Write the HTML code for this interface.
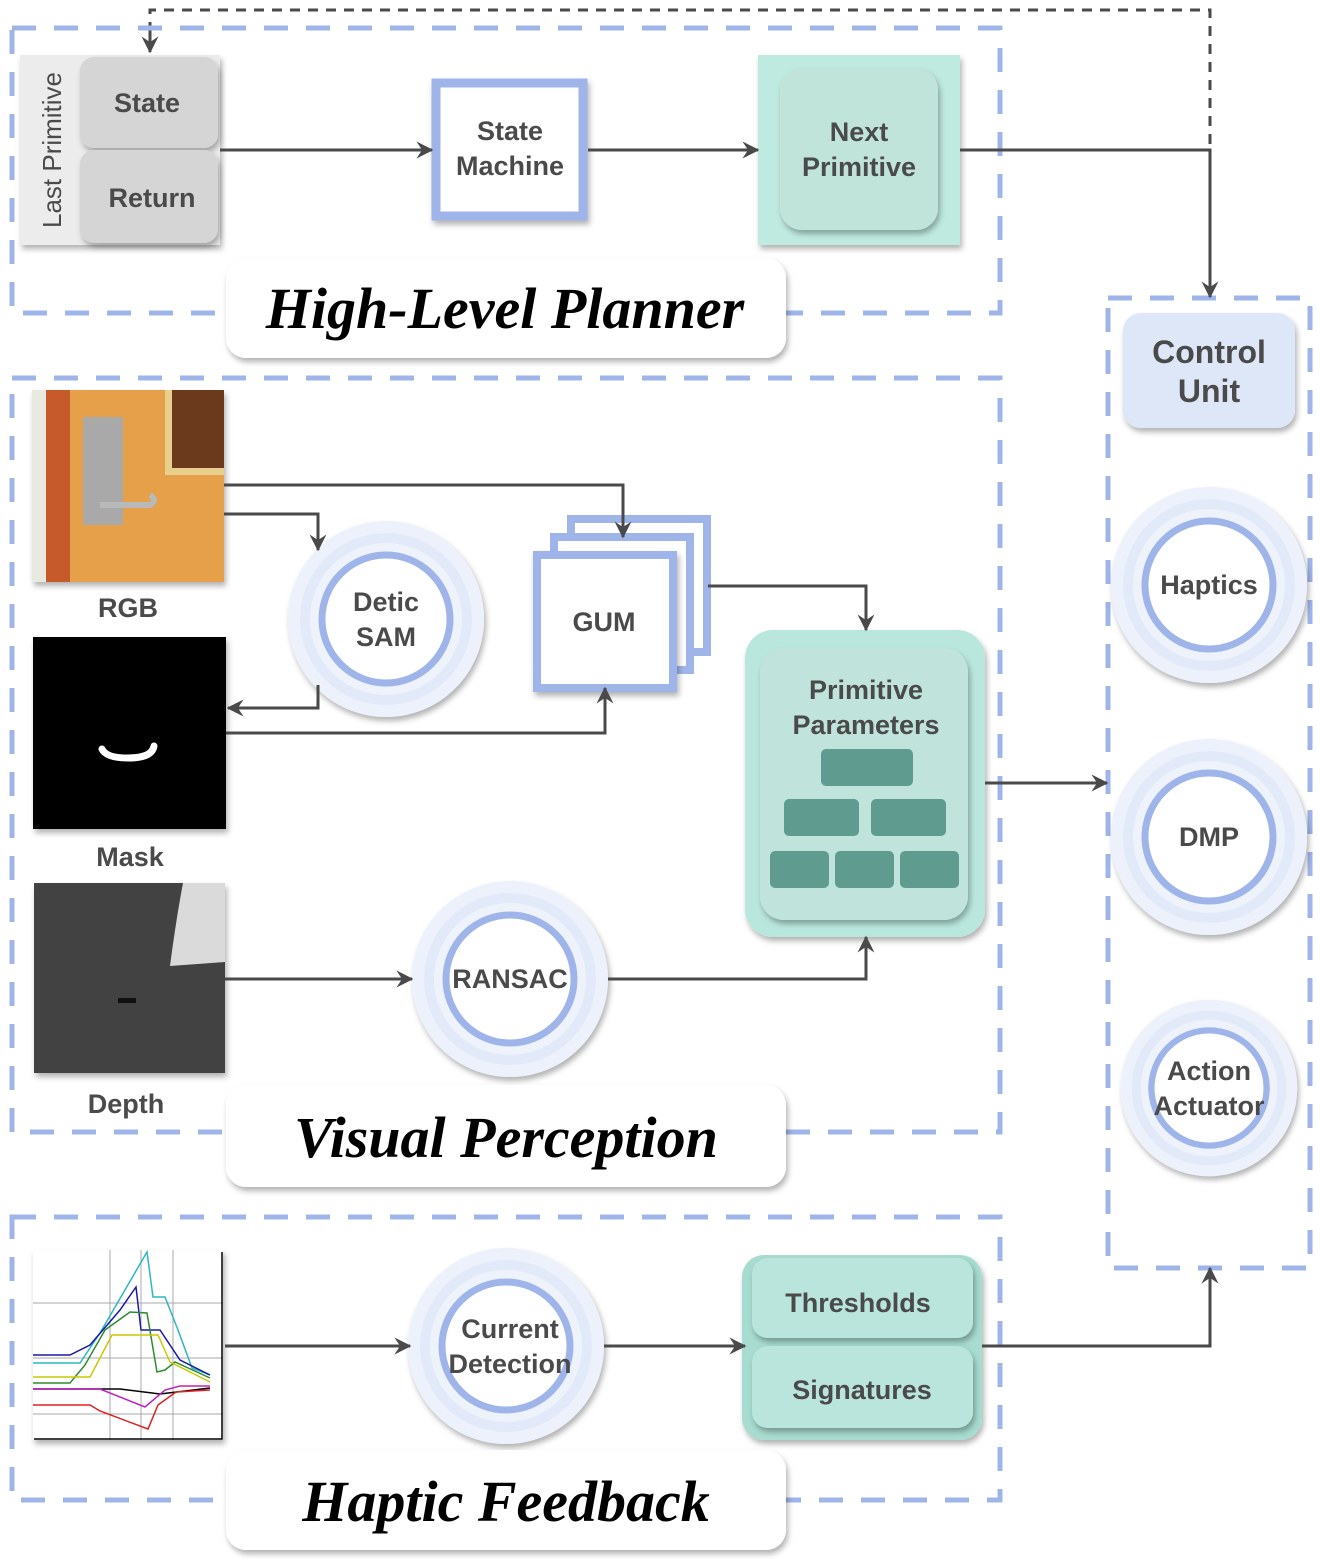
<!DOCTYPE html>
<html><head><meta charset="utf-8"><style>
html,body{margin:0;padding:0;background:#fff;width:1320px;height:1562px;overflow:hidden}
svg{display:block}
.t{font-family:"Liberation Sans",sans-serif;font-weight:bold;fill:#4a4a4a;text-anchor:middle}
.ti{font-family:"Liberation Serif",serif;font-weight:bold;font-style:italic;fill:#000;text-anchor:middle}
</style></head><body>
<svg width="1320" height="1562" viewBox="0 0 1320 1562" xmlns="http://www.w3.org/2000/svg">
<defs>
<filter id="sh" x="-20%" y="-20%" width="140%" height="140%"><feDropShadow dx="2" dy="4" stdDeviation="3" flood-color="#000" flood-opacity="0.3"/></filter>
<marker id="ar" viewBox="0 0 12 12" refX="11" refY="6" markerWidth="17" markerHeight="17" markerUnits="userSpaceOnUse" orient="auto"><path d="M0,0 L12,6 L0,12 L4,6 z" fill="#4a4a4a"/></marker>
<g id="circ">
<circle r="98" fill="#edf1fb" filter="url(#sh)"/>
<circle r="86" fill="#e2eaf9"/>
<circle r="76" fill="#eef2fb"/>
<circle r="64" fill="#fff" stroke="#9fb5ea" stroke-width="7"/>
</g>
</defs>
<g fill="none" stroke="#4a4a4a" stroke-width="3">
<path d="M150,50 V10 H1210 V150" stroke-dasharray="10,8"/>
</g>
<path d="M150,30 V52" stroke="#4a4a4a" stroke-width="3" marker-end="url(#ar)"/>

<g fill="none" stroke="#9fb5ea" stroke-width="5" stroke-dasharray="24,18">
<rect x="12" y="28" width="988" height="285"/>
<rect x="12" y="378" width="988" height="754"/>
<rect x="12" y="1217" width="988" height="283"/>
<rect x="1108" y="298" width="202" height="970"/>
</g>

<rect x="20" y="55" width="200" height="190" fill="#ececec" filter="url(#sh)"/>
<text class="t" transform="translate(52,150) rotate(-90)" style="font-weight:normal;font-size:26px" dy="9">Last Primitive</text>
<rect x="80" y="57" width="138" height="91" rx="14" fill="#d5d5d5" filter="url(#sh)"/>
<rect x="80" y="150" width="138" height="93" rx="14" fill="#d5d5d5" filter="url(#sh)"/>
<text class="t" x="147" y="112" font-size="27">State</text>
<text class="t" x="152" y="207" font-size="27">Return</text>
<rect x="436" y="83" width="147" height="133" fill="#fff" stroke="#9fb5ea" stroke-width="9" filter="url(#sh)"/>
<text class="t" x="510" y="140" font-size="27">State</text>
<text class="t" x="510" y="175" font-size="27">Machine</text>
<rect x="758" y="55" width="202" height="190" fill="#bfeae0" filter="url(#sh)"/>
<rect x="780" y="68" width="158" height="162" rx="22" fill="#c0e4da" filter="url(#sh)"/>
<text class="t" x="859" y="141" font-size="27">Next</text>
<text class="t" x="859" y="176" font-size="27">Primitive</text>
<g fill="none" stroke="#4a4a4a" stroke-width="3">
<path d="M220,150 H432" marker-end="url(#ar)"/>
<path d="M588,150 H758" marker-end="url(#ar)"/>
<path d="M960,150 H1210 V297" marker-end="url(#ar)"/>
</g>
<rect x="226" y="258" width="560" height="100" rx="20" fill="#fff" filter="url(#sh)"/>
<text class="ti" x="505" y="328" font-size="58">High-Level Planner</text>

<rect x="1123" y="313" width="172" height="115" rx="18" fill="#dde7f8" filter="url(#sh)"/>
<text class="t" x="1209" y="363" font-size="32">Control</text>
<text class="t" x="1209" y="402" font-size="32">Unit</text>
<use href="#circ" x="1209" y="585"/>
<text class="t" x="1209" y="594" font-size="27">Haptics</text>
<use href="#circ" x="1209" y="837"/>
<text class="t" x="1209" y="846" font-size="27">DMP</text>
<g transform="translate(1209,1088) scale(0.9)"><use href="#circ"/></g>
<text class="t" x="1209" y="1080" font-size="27">Action</text>
<text class="t" x="1209" y="1115" font-size="27">Actuator</text>

<g filter="url(#sh)">
<rect x="32" y="390" width="192" height="192" fill="#e6a24a"/>
</g>
<rect x="32" y="390" width="14" height="192" fill="#e8eadf"/>
<rect x="46" y="390" width="24" height="192" fill="#c75a2a"/>
<rect x="70" y="390" width="154" height="192" fill="#e6a04a"/>
<rect x="165" y="390" width="59" height="85" fill="#e9cf8e"/>
<rect x="172" y="390" width="52" height="78" fill="#6b3a1c"/>
<rect x="83" y="417" width="40" height="108" fill="#a8a9a8"/>
<path d="M100,505 H150 Q158,500 150,495" fill="none" stroke="#b8b9b8" stroke-width="6"/>
<text class="t" x="128" y="617" font-size="27">RGB</text>
<rect x="33" y="637" width="193" height="192" fill="#000" filter="url(#sh)"/>
<path d="M102,749 Q106,758 128,758 Q152,758 154,746" fill="none" stroke="#fff" stroke-width="7" stroke-linecap="round"/>
<text class="t" x="130" y="866" font-size="27">Mask</text>
<rect x="34" y="883" width="191" height="190" fill="#424242" filter="url(#sh)"/>
<path d="M183,883 H225 V962 L170,966 Q176,920 183,883 z" fill="#dadada"/>
<rect x="118" y="998" width="18" height="5" fill="#111"/>
<text class="t" x="126" y="1113" font-size="27">Depth</text>

<use href="#circ" x="386" y="619"/>
<text class="t" x="386" y="611" font-size="27">Detic</text>
<text class="t" x="386" y="646" font-size="27">SAM</text>

<rect x="571" y="519" width="136" height="133" fill="#fff" stroke="#9fb5ea" stroke-width="8"/>
<rect x="554" y="537" width="136" height="133" fill="#fff" stroke="#9fb5ea" stroke-width="8"/>
<rect x="537" y="555" width="136" height="133" fill="#fff" stroke="#9fb5ea" stroke-width="8" filter="url(#sh)"/>
<text class="t" x="604" y="631" font-size="27">GUM</text>

<rect x="745" y="630" width="240" height="307" rx="28" fill="#b9e7dd" filter="url(#sh)"/>
<rect x="760" y="648" width="208" height="272" rx="24" fill="#c0e4dc" filter="url(#sh)"/>
<text class="t" x="866" y="699" font-size="27">Primitive</text>
<text class="t" x="866" y="734" font-size="27">Parameters</text>
<g fill="#5f9b8f">
<rect x="821" y="749" width="92" height="37" rx="5"/>
<rect x="784" y="799" width="75" height="37" rx="5"/>
<rect x="871" y="799" width="75" height="37" rx="5"/>
<rect x="770" y="851" width="59" height="37" rx="5"/>
<rect x="835" y="851" width="59" height="37" rx="5"/>
<rect x="900" y="851" width="59" height="37" rx="5"/>
</g>

<use href="#circ" x="510" y="979"/>
<text class="t" x="510" y="988" font-size="27">RANSAC</text>

<g fill="none" stroke="#4a4a4a" stroke-width="3">
<path d="M224,514 H318 V550" marker-end="url(#ar)"/>
<path d="M224,485 H623 V537" marker-end="url(#ar)"/>
<path d="M318,685 V708 H228" marker-end="url(#ar)"/>
<path d="M226,733 H605 V688" marker-end="url(#ar)"/>
<path d="M708,586 H866 V630" marker-end="url(#ar)"/>
<path d="M225,979 H412" marker-end="url(#ar)"/>
<path d="M608,979 H866 V937" marker-end="url(#ar)"/>
<path d="M985,783 H1107" marker-end="url(#ar)"/>
</g>
<rect x="226" y="1085" width="560" height="102" rx="20" fill="#fff" filter="url(#sh)"/>
<text class="ti" x="506" y="1157" font-size="58">Visual Perception</text>

<rect x="33" y="1250" width="190" height="190" fill="#fff" filter="url(#sh)"/>
<g stroke="#aaa" stroke-width="1" fill="none">
<path d="M33,1303 H223 M33,1358 H223 M33,1414 H223 M110,1250 V1440 M141,1250 V1440 M173,1250 V1440"/>
</g>
<path d="M34,1439 H222 V1252" stroke="#000" stroke-width="1.5" fill="none"/>
<g fill="none" stroke-width="1.5">
<path d="M33,1363 H80 L100,1333 L147,1252 L153,1297 L165,1297 L178,1330 L192,1368 L210,1375" stroke="#2cb8c0"/>
<path d="M33,1355 H70 L90,1345 L120,1310 L136,1287 L141,1330 L160,1330 L180,1360 L210,1375" stroke="#1a1aa8"/>
<path d="M33,1383 H70 L85,1365 L105,1330 L130,1312 L147,1313 L157,1372 L165,1370 L175,1362 L210,1378" stroke="#2e8a2e"/>
<path d="M33,1377 H90 L112,1335 H158 L170,1362 L210,1382" stroke="#c8c800"/>
<path d="M33,1389 H120 L160,1394 L210,1388" stroke="#000"/>
<path d="M33,1389 H100 L145,1407 L165,1390 L180,1386 L210,1386" stroke="#c020c0"/>
<path d="M33,1405 H90 L100,1411 L148,1429 L158,1405 L176,1392 L210,1390" stroke="#e02020"/>
</g>

<use href="#circ" x="506" y="1346"/>
<text class="t" x="510" y="1338" font-size="27">Current</text>
<text class="t" x="510" y="1373" font-size="27">Detection</text>

<rect x="742" y="1255" width="240" height="185" rx="22" fill="#a8dcd0" filter="url(#sh)"/>
<rect x="752" y="1258" width="221" height="80" rx="16" fill="#b9e5dc" filter="url(#sh)"/>
<rect x="752" y="1346" width="221" height="82" rx="16" fill="#b9e5dc" filter="url(#sh)"/>
<text class="t" x="858" y="1312" font-size="27">Thresholds</text>
<text class="t" x="862" y="1399" font-size="27">Signatures</text>

<g fill="none" stroke="#4a4a4a" stroke-width="3">
<path d="M225,1346 H410" marker-end="url(#ar)"/>
<path d="M604,1346 H745" marker-end="url(#ar)"/>
<path d="M982,1346 H1210 V1268" marker-end="url(#ar)"/>
</g>
<rect x="226" y="1450" width="560" height="100" rx="20" fill="#fff" filter="url(#sh)"/>
<text class="ti" x="506" y="1521" font-size="58">Haptic Feedback</text>
</svg>
</body></html>
